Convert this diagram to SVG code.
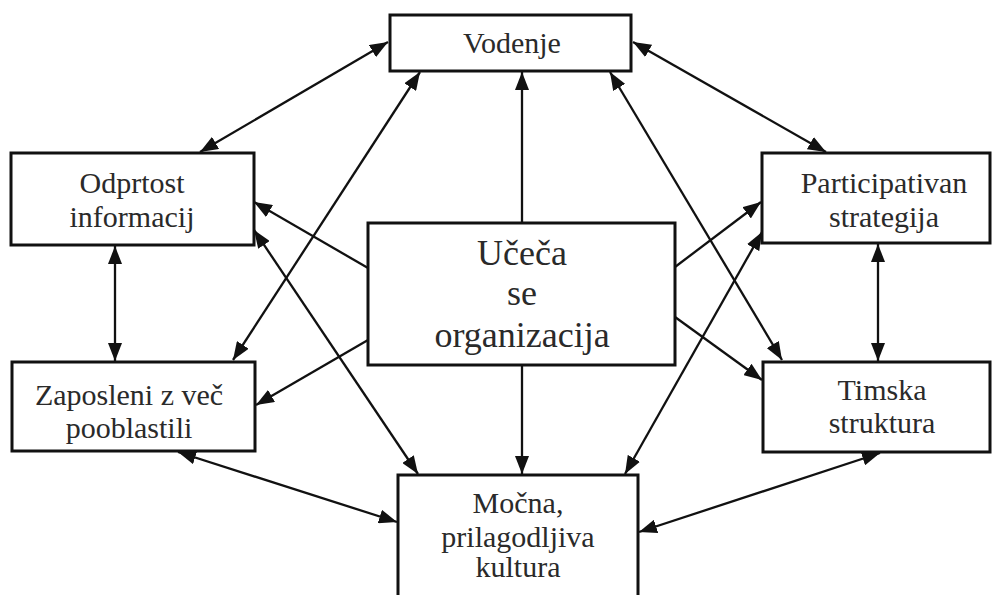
<svg xmlns="http://www.w3.org/2000/svg" width="992" height="595" viewBox="0 0 992 595">
  <style>
    .box { fill: #ffffff; stroke: #111111; stroke-width: 3; }
    .lbl { font-family: "Liberation Serif", "Times New Roman", serif; font-size: 30px; fill: #2a2a2a; text-anchor: middle; }
    .big { font-size: 36px; }
    .edge { fill: none; stroke: #111111; stroke-width: 2.3; }
  </style>
  <defs>
    <marker id="head" viewBox="0 0 18 14" refX="18" refY="7" markerWidth="18" markerHeight="14" markerUnits="userSpaceOnUse" orient="auto-start-reverse">
      <path d="M0,0 L18,7 L0,14 z" fill="#111111"/>
    </marker>
  </defs>
  <rect width="992" height="595" fill="#ffffff"/>

  <g id="connectors">
    <!-- one-way links from the centre -->
    <line class="edge" x1="522" y1="223" x2="522" y2="72" marker-end="url(#head)"/>
    <line class="edge" x1="522" y1="365" x2="522" y2="474" marker-end="url(#head)"/>
    <line class="edge" x1="368" y1="268" x2="254" y2="202" marker-end="url(#head)"/>
    <line class="edge" x1="368" y1="340" x2="256" y2="405" marker-end="url(#head)"/>
    <line class="edge" x1="675" y1="267" x2="761" y2="202" marker-end="url(#head)"/>
    <line class="edge" x1="675" y1="317" x2="762" y2="380" marker-end="url(#head)"/>
    <!-- two-way links around the ring -->
    <line class="edge" x1="200" y1="152" x2="388" y2="42" marker-start="url(#head)" marker-end="url(#head)"/>
    <line class="edge" x1="633" y1="42" x2="826" y2="152" marker-start="url(#head)" marker-end="url(#head)"/>
    <line class="edge" x1="420" y1="72" x2="233" y2="360" marker-start="url(#head)" marker-end="url(#head)"/>
    <line class="edge" x1="610" y1="72" x2="782" y2="360" marker-start="url(#head)" marker-end="url(#head)"/>
    <line class="edge" x1="254" y1="230" x2="418" y2="474" marker-start="url(#head)" marker-end="url(#head)"/>
    <line class="edge" x1="762" y1="232" x2="625" y2="474" marker-start="url(#head)" marker-end="url(#head)"/>
    <line class="edge" x1="115" y1="246" x2="115" y2="361" marker-start="url(#head)" marker-end="url(#head)"/>
    <line class="edge" x1="878" y1="244" x2="878" y2="361" marker-start="url(#head)" marker-end="url(#head)"/>
    <line class="edge" x1="178" y1="452" x2="397" y2="522" marker-start="url(#head)" marker-end="url(#head)"/>
    <line class="edge" x1="880" y1="453" x2="639" y2="532" marker-start="url(#head)" marker-end="url(#head)"/>
  </g>

  <g id="vodenje">
    <rect class="box" x="390" y="15" width="241" height="56"/>
    <text class="lbl" x="512" y="53">Vodenje</text>
  </g>

  <g id="odprtost">
    <rect class="box" x="11" y="153" width="243" height="92"/>
    <text class="lbl" x="132" y="193">Odprtost</text>
    <text class="lbl" x="132" y="227">informacij</text>
  </g>

  <g id="participativan">
    <rect class="box" x="762" y="153" width="228" height="90"/>
    <text class="lbl" x="884" y="193">Participativan</text>
    <text class="lbl" x="884" y="227">strategija</text>
  </g>

  <g id="ucece">
    <rect class="box" x="368" y="223" width="307" height="142"/>
    <text class="lbl big" x="522" y="265">Učeča</text>
    <text class="lbl big" x="522" y="305">se</text>
    <text class="lbl big" x="522" y="347">organizacija</text>
  </g>

  <g id="zaposleni">
    <rect class="box" x="12" y="362" width="243" height="89"/>
    <text class="lbl" x="129" y="405">Zaposleni z več</text>
    <text class="lbl" x="129" y="438">pooblastili</text>
  </g>

  <g id="timska">
    <rect class="box" x="763" y="362" width="227" height="90"/>
    <text class="lbl" x="882" y="400">Timska</text>
    <text class="lbl" x="882" y="433">struktura</text>
  </g>

  <g id="kultura">
    <rect class="box" x="398" y="475" width="240" height="130"/>
    <text class="lbl" x="518" y="513">Močna,</text>
    <text class="lbl" x="518" y="547">prilagodljiva</text>
    <text class="lbl" x="518" y="577">kultura</text>
  </g>
</svg>
